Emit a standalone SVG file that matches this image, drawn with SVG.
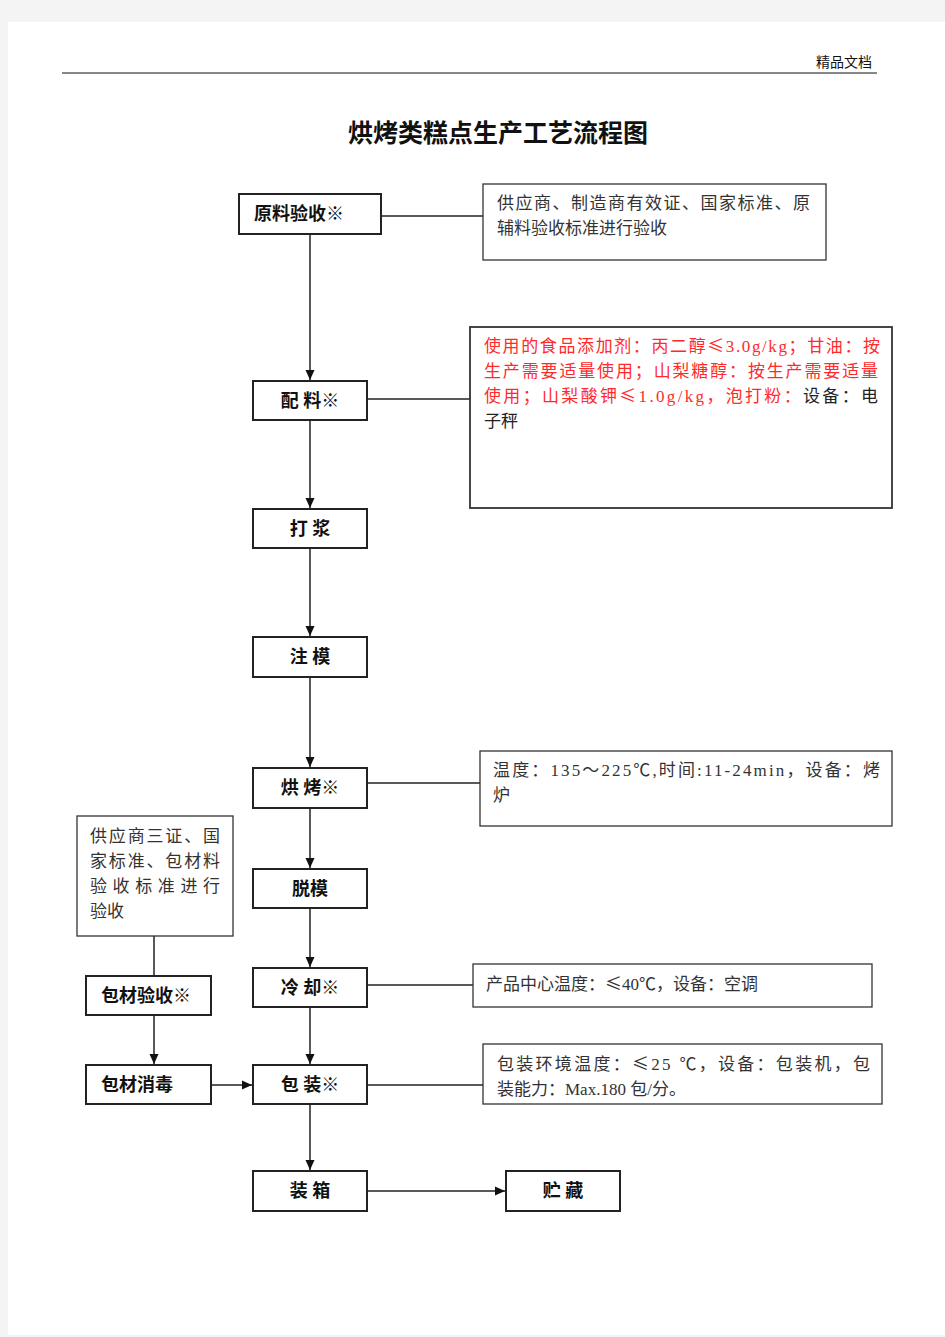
<svg xmlns="http://www.w3.org/2000/svg" width="945" height="1337" viewBox="0 0 945 1337">
<style>
text{font-family:"Liberation Serif","Noto Sans CJK SC",serif;fill:#111}
.lbl{font-size:18px;font-weight:bold;text-anchor:middle}
.note{font-size:17px;fill:#333}
.red{fill:#ff2a2a}
.cjk{font-family:"Noto Sans CJK SC",sans-serif}
.box{fill:#fff;stroke:#222;stroke-width:2}
.nbox{fill:#fff;stroke:#333;stroke-width:1.3}
.ln{stroke:#222;stroke-width:1.5;fill:none}
</style>
<defs>
<marker id="ar" markerWidth="12" markerHeight="12" refX="10" refY="5.5" orient="auto" markerUnits="userSpaceOnUse">
<path d="M0,1 L10,5.5 L0,10 Z" fill="#111"/>
</marker>
</defs>
<rect x="0" y="0" width="945" height="1337" fill="#f4f4f4"/>
<rect x="8" y="22" width="937" height="1313" fill="#fff"/>
<g id="header">
<text x="816" y="67" style="font-size:14px">精品文档</text>
<line x1="62" y1="73" x2="877" y2="73" stroke="#111" stroke-width="1"/>
<text x="498" y="142" style="font-size:25px;font-weight:bold;text-anchor:middle">烘烤类糕点生产工艺流程图</text>
</g>
<g id="connectors">
<line class="ln" x1="310" y1="234" x2="310" y2="380" marker-end="url(#ar)"/>
<line class="ln" x1="310" y1="420" x2="310" y2="508" marker-end="url(#ar)"/>
<line class="ln" x1="310" y1="548" x2="310" y2="636" marker-end="url(#ar)"/>
<line class="ln" x1="310" y1="677" x2="310" y2="767" marker-end="url(#ar)"/>
<line class="ln" x1="310" y1="808" x2="310" y2="868" marker-end="url(#ar)"/>
<line class="ln" x1="310" y1="908" x2="310" y2="967" marker-end="url(#ar)"/>
<line class="ln" x1="310" y1="1007" x2="310" y2="1064" marker-end="url(#ar)"/>
<line class="ln" x1="310" y1="1104" x2="310" y2="1170" marker-end="url(#ar)"/>
<line class="ln" x1="367" y1="1191" x2="505" y2="1191" marker-end="url(#ar)"/>
<line class="ln" x1="154" y1="936" x2="154" y2="976"/>
<line class="ln" x1="154" y1="1015" x2="154" y2="1064" marker-end="url(#ar)"/>
<line class="ln" x1="211" y1="1085" x2="252" y2="1085" marker-end="url(#ar)"/>
<line class="ln" x1="381" y1="216" x2="483" y2="216"/>
<line class="ln" x1="367" y1="399" x2="470" y2="399"/>
<line class="ln" x1="367" y1="783" x2="480" y2="783"/>
<line class="ln" x1="367" y1="985" x2="473" y2="985"/>
<line class="ln" x1="367" y1="1085" x2="483" y2="1085"/>
</g>
<g id="n1"><rect class="box" x="239" y="194" width="142" height="40"/><text class="lbl" x="299" y="220">原料验收※</text></g>
<g id="n2"><rect class="box" x="253" y="381" width="114" height="39"/><text class="lbl" x="310" y="407">配 料※</text></g>
<g id="n3"><rect class="box" x="253" y="509" width="114" height="39"/><text class="lbl" x="310" y="535">打 浆</text></g>
<g id="n4"><rect class="box" x="253" y="637" width="114" height="40"/><text class="lbl" x="310" y="663">注 模</text></g>
<g id="n5"><rect class="box" x="253" y="768" width="114" height="40"/><text class="lbl" x="310" y="794">烘 烤※</text></g>
<g id="n6"><rect class="box" x="253" y="869" width="114" height="39"/><text class="lbl" x="310" y="895">脱模</text></g>
<g id="n7"><rect class="box" x="253" y="968" width="114" height="39"/><text class="lbl" x="310" y="994">冷 却※</text></g>
<g id="n8"><rect class="box" x="253" y="1065" width="114" height="39"/><text class="lbl" x="310" y="1091">包 装※</text></g>
<g id="n9"><rect class="box" x="253" y="1171" width="114" height="40"/><text class="lbl" x="310" y="1197">装 箱</text></g>
<g id="n10"><rect class="box" x="506" y="1171" width="114" height="40"/><text class="lbl" x="563" y="1197">贮 藏</text></g>
<g id="n11"><rect class="box" x="86" y="976" width="125" height="39"/><text class="lbl" x="146" y="1002">包材验收※</text></g>
<g id="n12"><rect class="box" x="86" y="1065" width="125" height="39"/><text class="lbl" x="137" y="1091">包材消毒</text></g>
<g id="note1"><rect class="nbox" x="483" y="184" width="343" height="76"/>
<text class="note" x="497" y="209" textLength="313" lengthAdjust="spacing">供应商、制造商有效证、国家标准、原</text>
<text class="note" x="497" y="234">辅料验收标准进行验收</text></g>
<g id="note2"><rect class="nbox" x="470" y="327" width="422" height="181" style="stroke-width:1.8"/>
<text class="note red" x="484" y="352" textLength="396" lengthAdjust="spacing">使用的食品添加剂：丙二醇<tspan class="cjk">≤</tspan>3.0g/kg；甘油：按</text>
<text class="note red" x="484" y="377" textLength="394" lengthAdjust="spacing">生产需要适量使用；山梨糖醇：按生产需要适量</text>
<text class="note" x="484" y="402" textLength="394" lengthAdjust="spacing"><tspan class="red">使用；山梨酸钾<tspan class="cjk">≤</tspan>1.0g/kg，泡打粉：</tspan><tspan style="fill:#222">设备：电</tspan></text>
<text class="note" x="484" y="427" style="fill:#222">子秤</text></g>
<g id="note3"><rect class="nbox" x="480" y="751" width="412" height="75"/>
<text class="note" x="493" y="776" textLength="387" lengthAdjust="spacing">温度：135～225℃,时间:11-24min，设备：烤</text>
<text class="note" x="493" y="801">炉</text></g>
<g id="note4"><rect class="nbox" x="77" y="816" width="156" height="120"/>
<text class="note" x="90" y="842" textLength="130" lengthAdjust="spacing">供应商三证、国</text>
<text class="note" x="90" y="867" textLength="130" lengthAdjust="spacing">家标准、包材料</text>
<text class="note" x="90" y="892" textLength="130" lengthAdjust="spacing">验收标准进行</text>
<text class="note" x="90" y="917">验收</text></g>
<g id="note5"><rect class="nbox" x="473" y="964" width="399" height="43"/>
<text class="note" x="486" y="990">产品中心温度：<tspan class="cjk">≤</tspan>40℃，设备：空调</text></g>
<g id="note6"><rect class="nbox" x="483" y="1044" width="399" height="60"/>
<text class="note" x="497" y="1070" textLength="373" lengthAdjust="spacing">包装环境温度：<tspan class="cjk">≤</tspan>25 ℃，设备：包装机，包</text>
<text class="note" x="497" y="1095">装能力：Max.180 包/分。</text></g>
</svg>
